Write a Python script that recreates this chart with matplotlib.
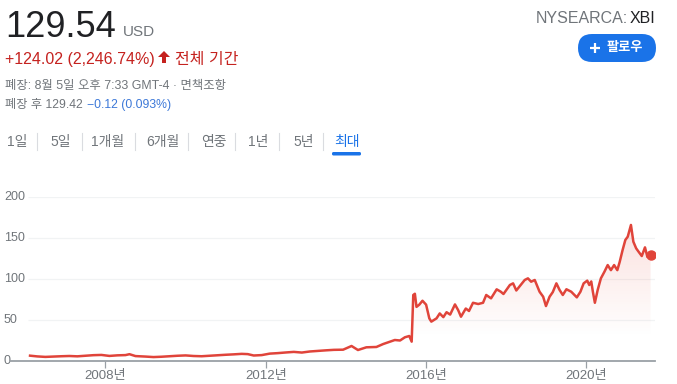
import numpy as np
import matplotlib
matplotlib.use("Agg")
import matplotlib.pyplot as plt
from matplotlib.patches import FancyBboxPatch, PathPatch, Polygon
from matplotlib.transforms import blended_transform_factory

plt.rcParams['font.family'] = ['Liberation Sans', 'Noto Sans CJK KR', 'DejaVu Sans']

# price history (decimal year, price in USD)
years = [2006.12, 2006.3, 2006.5, 2006.7, 2006.9, 2007.1, 2007.3, 2007.5, 2007.7, 2007.9,
         2008.1, 2008.3, 2008.5, 2008.6, 2008.75, 2009.0, 2009.2, 2009.4, 2009.6, 2009.8,
         2010.0, 2010.2, 2010.4, 2010.6, 2010.8, 2011.0, 2011.2, 2011.4, 2011.55, 2011.7,
         2011.9, 2012.1, 2012.3, 2012.5, 2012.7, 2012.9, 2013.1, 2013.3, 2013.5, 2013.7,
         2013.93, 2014.14, 2014.3, 2014.51, 2014.76, 2014.93, 2015.22, 2015.35, 2015.47, 2015.58,
         2015.64, 2015.68, 2015.72, 2015.76, 2015.83, 2015.91, 2016.0, 2016.08, 2016.13, 2016.26,
         2016.34, 2016.43, 2016.51, 2016.6, 2016.72, 2016.8, 2016.87, 2016.99, 2017.07, 2017.17,
         2017.3, 2017.42, 2017.5, 2017.62, 2017.76, 2017.86, 2017.93, 2018.09, 2018.17, 2018.25,
         2018.34, 2018.46, 2018.54, 2018.62, 2018.71, 2018.83, 2018.92, 2018.99, 2019.08, 2019.16,
         2019.25, 2019.33, 2019.41, 2019.5, 2019.62, 2019.76, 2019.85, 2019.93, 2020.02, 2020.07,
         2020.12, 2020.16, 2020.21, 2020.28, 2020.36, 2020.45, 2020.53, 2020.61, 2020.69, 2020.77,
         2020.83, 2020.9, 2020.97, 2021.03, 2021.11, 2021.17, 2021.24, 2021.3, 2021.38, 2021.46,
         2021.52, 2021.6]
prices = [6.5, 5.6, 5.0, 5.4, 5.8, 6.1, 5.7, 6.4, 7.1, 7.4,
          6.2, 6.9, 7.2, 8.3, 6.0, 5.4, 4.8, 5.2, 5.8, 6.4,
          6.8, 6.1, 5.8, 6.4, 7.0, 7.6, 8.1, 8.7, 8.4, 6.7,
          7.2, 9.0, 9.6, 10.4, 11.1, 10.3, 11.6, 12.3, 13.0, 13.6,
          13.8, 18.3, 13.4, 16.7, 17.1, 20.7, 25.6, 25.0, 28.9, 30.5,
          23.6, 80.5, 82.0, 66.0, 68.7, 73.5, 68.7, 52.0, 48.0, 52.0,
          58.0, 53.5, 59.5, 56.6, 69.0, 62.0, 54.0, 64.0, 61.0, 71.0,
          69.5, 71.0, 80.5, 76.4, 87.4, 84.6, 81.7, 92.7, 94.7, 86.0,
          91.5, 98.8, 100.8, 96.7, 98.8, 84.5, 78.4, 67.0, 78.4, 84.0,
          94.7, 86.6, 80.5, 87.5, 84.5, 77.6, 84.5, 94.7, 98.0, 92.7,
          97.0, 84.5, 71.0, 86.6, 100.8, 109.0, 117.0, 110.8, 117.0, 110.8,
          121.0, 135.0, 147.6, 151.6, 165.9, 145.5, 137.4, 133.3, 128.0, 138.6,
          127.0, 129.54]

yticks = [0, 50, 100, 150, 200]
xticks = [2008, 2012, 2016, 2020]
xtick_labels = ['2008년', '2012년', '2016년', '2020년']
tabs = ['1일', '5일', '1개월', '6개월', '연중', '1년', '5년', '최대']

W, H = 677, 384
red = '#e0443a'
gray = '#70757a'
blue = '#1a73e8'

fig = plt.figure(figsize=(W / 100, H / 100), dpi=100)

# overlay in pixel coordinates for the header part
ov = fig.add_axes([0, 0, 1, 1])
ov.set_xlim(0, W)
ov.set_ylim(H, 0)
ov.axis('off')

ov.text(5, 37, '129.54', fontsize=26, color='#202124', va='baseline')
ov.text(123, 36, 'USD', fontsize=11, color=gray, va='baseline')
ov.text(5, 64, '+124.02 (2,246.74%)', fontsize=11.5, color='#c5221f', va='baseline')
ov.add_patch(Polygon([[162, 63], [162, 57], [158, 57], [164, 51], [170, 57], [166, 57], [166, 63]],
                     closed=True, fc='#c5221f', ec='none'))
ov.text(175, 64, '전체 기간', fontsize=11.5, color='#c5221f', va='baseline')
ov.text(5, 89, '폐장: 8월 5일 오후 7:33 GMT-4 · 면책조항', fontsize=8.9, color=gray, va='baseline')
ov.text(5, 108, '폐장 후 129.42', fontsize=8.8, color=gray, va='baseline')
ov.text(87, 108, '−0.12 (0.093%)', fontsize=8.8, color='#3c78d8', va='baseline')

ov.text(655, 23, 'XBI', fontsize=11.5, color='#202124', va='baseline', ha='right')
ov.text(628, 23, 'NYSEARCA:', fontsize=11.5, color=gray, va='baseline', ha='right')

# follow button
ov.add_patch(FancyBboxPatch((578, 34), 78, 28, boxstyle='round,pad=0,rounding_size=14',
                            fc=blue, ec='none'))
ov.plot([589.5, 600], [48, 48], color='white', lw=1.6, solid_capstyle='butt')
ov.plot([594.7, 594.7], [42.7, 53.3], color='white', lw=1.6, solid_capstyle='butt')
ov.text(607, 48, '팔로우', fontsize=9.5, color='white', va='center', fontweight='bold')

# range tabs
tab_x = [6.5, 50.5, 91.5, 146.5, 201.5, 248, 293, 334.5]
sep_x = [37.3, 81.7, 135, 188.3, 235, 279.3, 323.3]
for lab, x in zip(tabs, tab_x):
    ov.text(x, 142, lab, fontsize=10, color=blue if lab == '최대' else gray, va='center')
for x in sep_x:
    ov.plot([x, x], [133, 150], color='#dadce0', lw=0.8)
ov.add_patch(FancyBboxPatch((332, 152), 29, 3.5, boxstyle='round,pad=0,rounding_size=1.5',
                            fc=blue, ec='none'))

# price chart
ax = fig.add_axes([10 / W, (H - 361) / H, 645 / W, 164 / H])
ax.patch.set_alpha(0)
x0, x1 = 2005.62, 2021.71

ax.hlines(yticks[1:], 2006.07, x1, color='#f1f3f4', lw=0.9, zorder=0)

poly = ax.fill_between(years, prices, 0, color='none', lw=0)
v = np.linspace(0, 200, 201)
alpha = 0.17 * np.clip((v - 30) / 140, 0, 1)
grad = np.zeros((201, 1, 4))
grad[:, 0, 0] = 0.9
grad[:, 0, 1] = 0.28
grad[:, 0, 2] = 0.22
grad[:, 0, 3] = alpha
im = ax.imshow(grad, aspect='auto', origin='lower', extent=[years[0], years[-1], 0, 200],
               interpolation='bilinear', zorder=1)
clip = PathPatch(poly.get_paths()[0], transform=ax.transData, fc='none', ec='none')
im.set_clip_path(clip)

ax.plot(years, prices, color=red, lw=1.8, zorder=3, solid_joinstyle='round')
ax.plot(years[-1], prices[-1], 'o', color=red, ms=6.5, zorder=4)

ax.set_xlim(x0, x1)
ax.set_ylim(0, 200)
for s in ['left', 'right', 'top']:
    ax.spines[s].set_visible(False)
ax.spines['bottom'].set_color('#9aa0a6')
ax.spines['bottom'].set_linewidth(1.3)
ax.spines['bottom'].set_zorder(5)
ax.set_yticks([])
ax.set_xticks(xticks)
ax.set_xticklabels(xtick_labels)
ax.tick_params(axis='x', length=5, width=0.9, color='#9aa0a6', pad=1.5,
               labelsize=9.5, labelcolor=gray)

ytrans = blended_transform_factory(fig.transFigure, ax.transData)
for t in yticks:
    ax.text(4 / W, t, str(t), transform=ytrans, fontsize=9, color=gray,
            va='center', ha='left', clip_on=False)

fig.savefig('out.png', dpi=100)
